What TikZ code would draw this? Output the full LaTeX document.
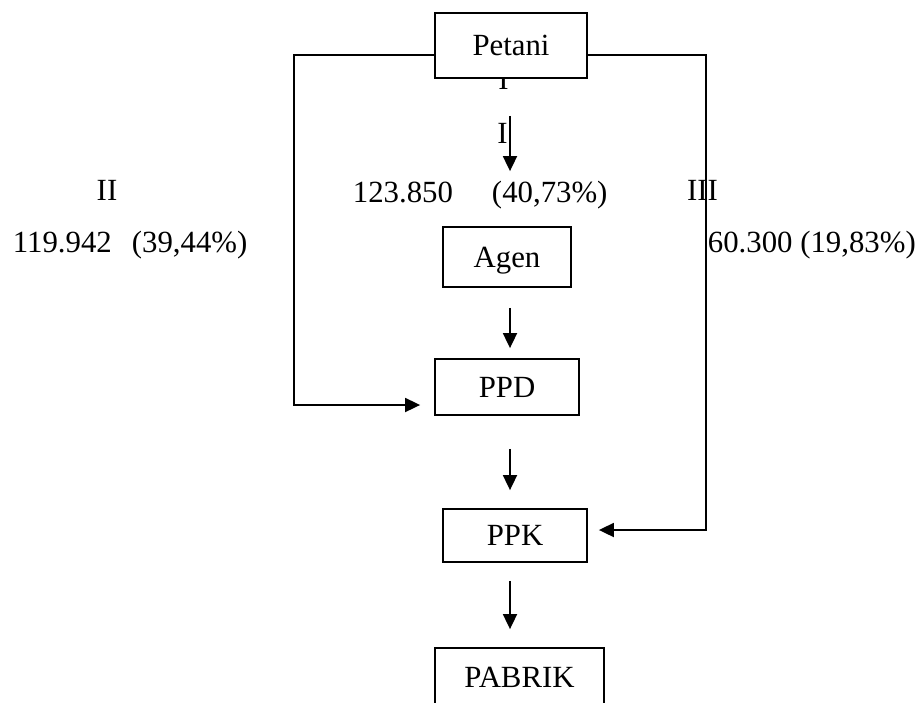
\documentclass[tikz,border=0pt]{standalone}
\usepackage{fontspec}
\setmainfont{Liberation Serif}
\usetikzlibrary{arrows.meta}
\newcommand\diafont{\fontsize{30.8}{37}\selectfont}
\begin{document}
\begin{tikzpicture}[x=1pt,y=-1pt, line width=1.8pt,
  box/.style={draw, fill=white, inner sep=0pt, text depth=0pt, font=\diafont},
  lbl/.style={inner sep=0pt, font=\diafont},
  arr/.style={-{Triangle[length=15pt,width=14pt]}}]
\clip (0,0) rectangle (924,702);
\fill[white] (0,0) rectangle (924,702);
% labels
\node[lbl, anchor=base] (i1) at (503.5,89) {I};
\node[box, minimum width=152pt, minimum height=65pt] (petani) at (511,45.5) {Petani};
\node[lbl, anchor=base] (i2) at (502.5,143) {I};
\node[lbl, anchor=base west] (c1) at (352,202) {123.850\hspace{39pt}(40,73\%)};
\node[lbl, anchor=base] (c2) at (107,200) {II};
\node[lbl, anchor=base west] (c2v) at (12,252) {119.942\hspace{20pt}(39,44\%)};
\node[lbl, anchor=base] (c3) at (702.5,200) {III};
\node[lbl, anchor=base west] (c3v) at (707,252) {60.300 (19,83\%)};
% boxes
\node[box, minimum width=128pt, minimum height=60pt] (agen) at (507,257) {Agen};
\node[box, minimum width=144pt, minimum height=56pt] (ppd) at (507,387) {PPD};
\node[box, minimum width=144pt, minimum height=53pt] (ppk) at (515,535.5) {PPK};
\node[box, minimum width=169pt, minimum height=59pt] (pabrik) at (519.5,677.5) {PABRIK};
% connectors
\coordinate (ax) at (510,0);
\coordinate (lc) at (294,405);
\coordinate (rc) at (706,530);
\draw[arr, shorten <=37pt, shorten >=55pt] (petani.south -| ax) -- (agen.north -| ax);
\draw[arr, shorten <=20pt, shorten >=10pt] (agen.south -| ax) -- (ppd.north -| ax);
\draw[arr, shorten <=33pt, shorten >=18pt] (ppd.south -| ax) -- (ppk.north -| ax);
\draw[arr, shorten <=18pt, shorten >=18pt] (ppk.south -| ax) -- (pabrik.north -| ax);
\draw[arr, shorten >=14pt] ([yshift=-9.5pt]petani.west) -| (lc) -- (lc -| ppd.west);
\draw[arr, shorten >=11pt] ([yshift=-9.5pt]petani.east) -| (rc) -- (rc -| ppk.east);
\end{tikzpicture}
\end{document}
